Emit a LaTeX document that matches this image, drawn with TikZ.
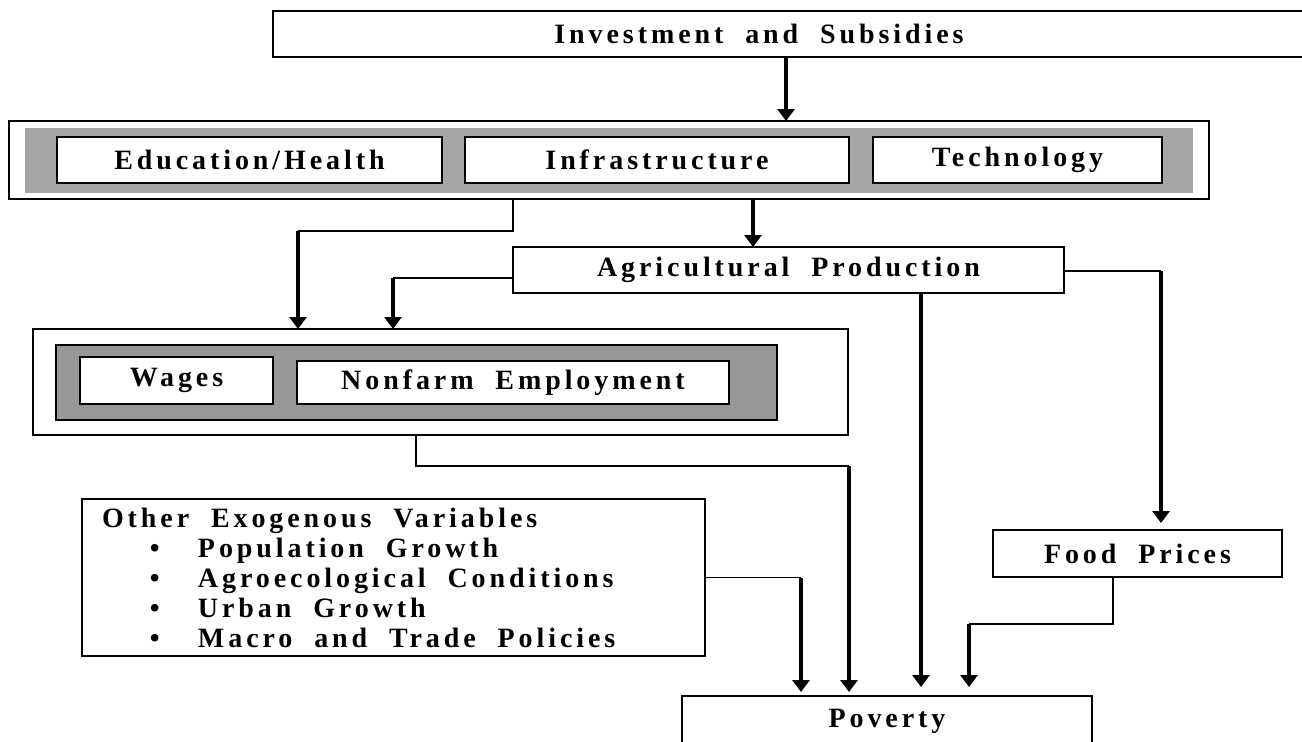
\documentclass[tikz,border=0pt]{standalone}
\usepackage{fontspec}
\newfontfamily\diagfont{Liberation Serif}[LetterSpace=14,WordSpace=2.0]
\usetikzlibrary{arrows.meta}
\definecolor{bandlight}{HTML}{A5A5A5}
\definecolor{banddark}{HTML}{989898}
\tikzset{
    boxtext/.style={font=\diagfont\bfseries\fontsize{14}{15}\selectfont},
    box/.style={rectangle,draw=black,line width=1pt,fill=white,inner sep=0pt,outer sep=0pt,boxtext},
    band/.style={rectangle,inner sep=0pt,outer sep=0pt},
    boxsize/.style 2 args={minimum width=#1*0.5pt,minimum height=#2*0.5pt},
    link/.style={draw=black,line width=0.75pt},
    flow/.style={draw=black,line width=2.2pt,-{Triangle[width=8.5pt,length=6pt]}}
}
\begin{document}
\begin{tikzpicture}[x=0.5pt,y=-0.5pt]
    \useasboundingbox (0,0) rectangle (1302,741);

    % top row
    \node[box,boxsize={1057}{46}] (inv) at (801.5,34) {};
    \node[boxtext] (invtext) at (759,34) {Investment and Subsidies};

    % investments
    \node[box,boxsize={1200}{78}] (mid) at (609,160) {};
    \node[band,fill=bandlight,boxsize={1168}{65}] (midband) at (609,160.5) {};
    \node[box,boxsize={385}{46}] (edu) at (249.5,160) {Education/Health};
    \node[box,boxsize={384}{46}] (infra) at (657,160) {Infrastructure};
    \node[box,boxsize={289}{46}] (tech) at (1017.5,160) {Technology};

    \node[box,boxsize={551}{46}] (agri) at (788.5,270) {Agricultural Production};

    % labour market
    \node[box,boxsize={815}{106}] (lab) at (440.5,382) {};
    \node[band,draw=black,line width=1pt,fill=banddark,boxsize={721}{75}] (labband) at (416.5,382.5) {};
    \node[box,boxsize={193}{47}] (wages) at (176.5,380.5) {Wages};
    \node[box,boxsize={432}{43}] (nonfarm) at (513,382.5) {Nonfarm Employment};

    \node[box,boxsize={623}{157},text width=291.5pt,align=left] (other) at (393.5,577.5)
        {\spaceskip=0pt\relax Other Exogenous Variables\\
         \hspace*{24pt}\makebox[24pt][l]{\textbullet}Population Growth\\
         \hspace*{24pt}\makebox[24pt][l]{\textbullet}Agroecological Conditions\\
         \hspace*{24pt}\makebox[24pt][l]{\textbullet}Urban Growth\\
         \hspace*{24pt}\makebox[24pt][l]{\textbullet}Macro and Trade Policies};

    \node[box,boxsize={289}{47}] (food) at (1137.5,553.5) {Food Prices};
    \node[box,boxsize={410}{50}] (pov) at (887,721) {Poverty};

    % bends of the connectors
    \coordinate (c1) at (786,0);
    \coordinate (c2) at (753,0);
    \coordinate (c3) at (298,231);
    \coordinate (c4) at (393,278);
    \coordinate (c5) at (416,466);
    \coordinate (c6) at (849,466);
    \coordinate (c7) at (921,0);
    \coordinate (c8) at (1161,271);
    \coordinate (c9) at (1113,624);
    \coordinate (c10) at (969,624);
    \coordinate (c11) at (801,577.5);

    \draw[flow] (inv.south -| c1) -- (mid.north -| c1);
    \draw[flow] (mid.south -| c2) -- (agri.north -| c2);
    \draw[link] (mid.south -| agri.west) |- (c3);
    \draw[flow] (c3) -- (lab.north -| c3);
    \draw[link] (agri.west |- c4) -- (c4);
    \draw[flow] (c4) -- (lab.north -| c4);
    \draw[link] (lab.south -| c5) -- (c5) -- (c6);
    \draw[flow,shorten >=2pt] (c6) -- (pov.north -| c6);
    \draw[flow,shorten >=4.5pt] (agri.south -| c7) -- (pov.north -| c7);
    \draw[link] (agri.east |- c8) -- (c8);
    \draw[flow,shorten >=3.5pt] (c8) -- (food.north -| c8);
    \draw[link] (food.south -| c9) -- (c9) -- (c10);
    \draw[flow,shorten >=4.5pt] (c10) -- (pov.north -| c10);
    \draw[link] (other.east) -- (c11);
    \draw[flow,shorten >=2pt] (c11) -- (pov.north -| c11);
\end{tikzpicture}
\end{document}
